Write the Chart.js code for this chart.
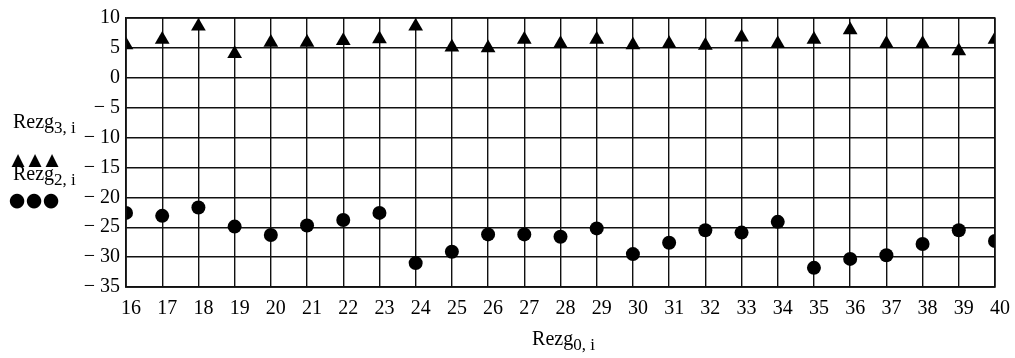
<!DOCTYPE html>
<html>
<head>
<meta charset="utf-8">
<script src="https://cdn.jsdelivr.net/npm/chart.js@4/dist/chart.umd.min.js"></script>
<style>
html,body{margin:0;padding:0;background:#fff;}
#wrap{position:relative;width:1015px;height:358px;}
</style>
</head>
<body>
<div id="wrap"><canvas id="c" width="1015" height="358"></canvas></div>
<script>
const categories = [16,17,18,19,20,21,22,23,24,25,26,27,28,29,30,31,32,33,34,35,36,37,38,39,40];
const rezg3 = [5.5,6.4,8.6,4.0,5.9,5.9,6.2,6.5,8.6,5.1,5.0,6.4,5.7,6.4,5.5,5.7,5.4,6.8,5.7,6.4,8.0,5.7,5.7,4.5,6.4];
const rezg2 = [-22.6,-23.1,-21.7,-24.9,-26.3,-24.7,-23.8,-22.6,-31.0,-29.1,-26.2,-26.2,-26.6,-25.2,-29.5,-27.6,-25.5,-25.9,-24.1,-31.8,-30.3,-29.7,-27.8,-25.5,-27.3];
const yTicks = [10,5,0,-5,-10,-15,-20,-25,-30,-35];
const xTitle = ["Rezg", "0, i"];
const legend3 = ["Rezg", "3, i", "▲▲▲"];
const legend2 = ["Rezg", "2, i", "●●●"];

const serif = "'Liberation Serif','Times New Roman',serif";

const textPlugin = {
  id: 'texts',
  afterDraw(chart) {
    const ctx = chart.ctx;
    ctx.save();
    ctx.fillStyle = '#000';
    ctx.textBaseline = 'alphabetic';
    ctx.textAlign = 'left';
    function widths(main, s) {
      ctx.font = '20px ' + serif;
      const a = ctx.measureText(main).width;
      ctx.font = '17px ' + serif;
      const b = ctx.measureText(s).width;
      return a + b;
    }
    function sub(x, y, main, s) {
      ctx.font = '20px ' + serif;
      ctx.fillText(main, x, y);
      const w = ctx.measureText(main).width;
      ctx.font = '17px ' + serif;
      ctx.fillText(s, x + w, y + 5);
    }
    function row(str, x0, step, y, font) {
      ctx.font = font;
      ctx.textAlign = 'center';
      Array.from(str).forEach((ch, i) => ctx.fillText(ch, x0 + i * step, y));
      ctx.textAlign = 'left';
    }
    const ca = chart.chartArea;
    // x title
    const tw = widths(xTitle[0], xTitle[1]);
    sub((ca.left + ca.right) / 2 + 3 - tw / 2, 345, xTitle[0], xTitle[1]);
    // legend
    sub(13, 128, legend3[0], legend3[1]);
    row(legend3[2], 18, 17, 165, '17px DejaVu Sans');
    sub(13, 180, legend2[0], legend2[1]);
    row(legend2[2], 17, 17, 206, '19px DejaVu Sans');
    ctx.restore();
  }
};

new Chart(document.getElementById('c'), {
  type: 'scatter',
  data: {
    datasets: [
      {
        label: 'Rezg3,i',
        data: categories.map((x, i) => ({x: x, y: rezg3[i]})),
        pointStyle: 'triangle',
        pointRadius: 8.5,
        backgroundColor: '#000',
        borderColor: '#000',
        borderWidth: 0,
        pointHoverRadius: 8.5
      },
      {
        label: 'Rezg2,i',
        data: categories.map((x, i) => ({x: x, y: rezg2[i]})),
        pointStyle: 'circle',
        pointRadius: 7,
        backgroundColor: '#000',
        borderColor: '#000',
        borderWidth: 0,
        pointHoverRadius: 7
      }
    ]
  },
  options: {
    responsive: false,
    animation: false,
    events: [],
    layout: { padding: { left: 0, right: 18, top: 15, bottom: 0 } },
    plugins: { legend: { display: false }, tooltip: { enabled: false } },
    scales: {
      x: {
        type: 'linear',
        min: 16, max: 40,
        afterBuildTicks(scale) { scale.ticks = categories.map(v => ({value: v})); },
        afterFit(scale) { scale.height = 71; },
        grid: { color: '#111', lineWidth: 1.4, drawTicks: false },
        border: { color: '#111', width: 1.4 },
        ticks: { color: '#000', font: { family: serif, size: 20 }, padding: 10, labelOffset: 5, maxRotation: 0, autoSkip: false }
      },
      y: {
        min: -35, max: 10,
        afterBuildTicks(scale) { scale.ticks = yTicks.map(v => ({value: v})); },
        afterFit(scale) { scale.width = 126; },
        grid: { color: '#111', lineWidth: 1.4, drawTicks: false },
        border: { color: '#111', width: 1.4 },
        ticks: {
          color: '#000', font: { family: serif, size: 20 }, padding: 6,
          callback: v => v < 0 ? '\u2212 ' + Math.abs(v) : String(v)
        }
      }
    }
  },
  plugins: [textPlugin, {
    id: 'frame',
    afterDatasetsDraw(chart) {
      const ca = chart.chartArea, ctx = chart.ctx;
      ctx.save();
      ctx.strokeStyle = '#111';
      ctx.lineWidth = 1.4;
      ctx.strokeRect(ca.left, ca.top, ca.right - ca.left, ca.bottom - ca.top);
      ctx.restore();
    }
  }]
});
</script>
</body>
</html>
